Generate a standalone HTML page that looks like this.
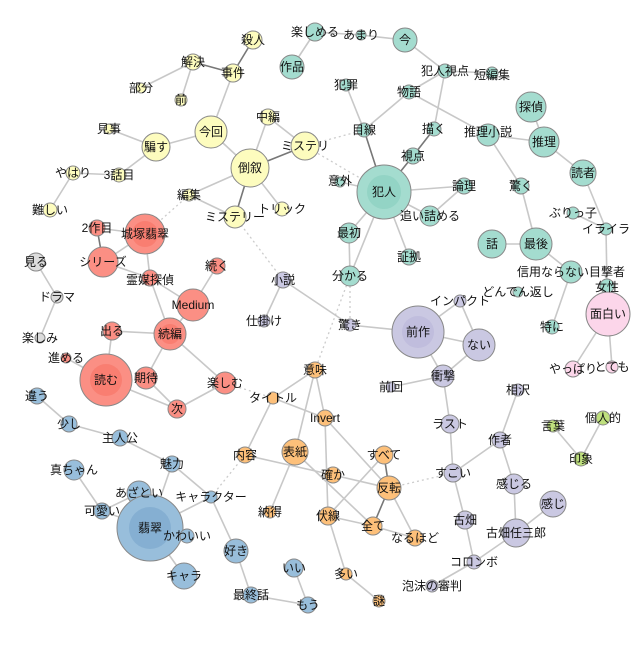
<!DOCTYPE html>
<html><head><meta charset="utf-8"><style>
html,body{margin:0;padding:0;background:#fff;}
svg text{font-family:"Liberation Sans","Noto Sans CJK JP",sans-serif;font-size:12px;fill:#111;text-anchor:middle;dominant-baseline:central;}
.e{stroke:#c8c8c8;stroke-width:1.6;fill:none}
.d{stroke:#777;stroke-width:1.6;fill:none}
.o{stroke:#ccc;stroke-width:1.3;stroke-dasharray:2,3;fill:none}
circle{stroke:#888;stroke-width:1}
.Y{fill:#fdfcbe}.T{fill:#a4dccf}.R{fill:#fb8f84}.B{fill:#98bedb}.L{fill:#cac8e2}.O{fill:#fdc07a}.P{fill:#fcd6ea}.G{fill:#bfe07e}.A{fill:#dcdcdc}
.i{stroke:none;opacity:.45}
</style></head><body>
<svg width="640" height="640" viewBox="0 0 640 640" xmlns="http://www.w3.org/2000/svg">
<g>
<line class="d" x1="253" y1="40" x2="233" y2="73"/>
<line class="d" x1="193" y1="62" x2="233" y2="73"/>
<line class="e" x1="193" y1="62" x2="141" y2="88"/>
<line class="e" x1="193" y1="62" x2="181" y2="100"/>
<line class="e" x1="233" y1="73" x2="211" y2="132"/>
<line class="e" x1="211" y1="132" x2="156" y2="147"/>
<line class="e" x1="211" y1="132" x2="250" y2="168"/>
<line class="e" x1="156" y1="147" x2="109" y2="129"/>
<line class="e" x1="156" y1="147" x2="119" y2="175"/>
<line class="e" x1="119" y1="175" x2="73" y2="173"/>
<line class="e" x1="73" y1="173" x2="50" y2="210"/>
<line class="e" x1="250" y1="168" x2="268" y2="117"/>
<line class="e" x1="268" y1="117" x2="305" y2="146"/>
<line class="d" x1="250" y1="168" x2="305" y2="146"/>
<line class="e" x1="250" y1="168" x2="282" y2="209"/>
<line class="d" x1="250" y1="168" x2="235" y2="217"/>
<line class="e" x1="250" y1="168" x2="189" y2="195"/>
<line class="e" x1="189" y1="195" x2="235" y2="217"/>
<line class="o" x1="189" y1="195" x2="145" y2="234"/>
<line class="o" x1="235" y1="217" x2="283" y2="280"/>
<line class="o" x1="305" y1="146" x2="384" y2="192"/>
<line class="o" x1="305" y1="146" x2="364" y2="130"/>
<line class="e" x1="315" y1="32" x2="292" y2="67"/>
<line class="e" x1="315" y1="32" x2="361" y2="35"/>
<line class="e" x1="361" y1="35" x2="405" y2="40"/>
<line class="e" x1="405" y1="40" x2="445" y2="71"/>
<line class="e" x1="445" y1="71" x2="492" y2="73"/>
<line class="e" x1="445" y1="71" x2="409" y2="92"/>
<line class="e" x1="445" y1="71" x2="434" y2="129"/>
<line class="e" x1="409" y1="92" x2="364" y2="130"/>
<line class="e" x1="409" y1="92" x2="488" y2="135"/>
<line class="e" x1="346" y1="85" x2="364" y2="130"/>
<line class="d" x1="364" y1="130" x2="384" y2="192"/>
<line class="d" x1="434" y1="129" x2="413" y2="156"/>
<line class="d" x1="413" y1="156" x2="384" y2="192"/>
<line class="e" x1="340" y1="182" x2="384" y2="192"/>
<line class="e" x1="384" y1="192" x2="464" y2="186"/>
<line class="e" x1="384" y1="192" x2="430" y2="216"/>
<line class="e" x1="464" y1="186" x2="430" y2="216"/>
<line class="e" x1="384" y1="192" x2="349" y2="233"/>
<line class="e" x1="384" y1="192" x2="350" y2="276"/>
<line class="e" x1="384" y1="192" x2="409" y2="257"/>
<line class="e" x1="349" y1="233" x2="350" y2="276"/>
<line class="o" x1="350" y1="276" x2="350" y2="325"/>
<line class="o" x1="350" y1="276" x2="315" y2="370"/>
<line class="e" x1="488" y1="135" x2="544" y2="142"/>
<line class="e" x1="531" y1="107" x2="544" y2="142"/>
<line class="e" x1="544" y1="142" x2="583" y2="173"/>
<line class="e" x1="488" y1="135" x2="521" y2="186"/>
<line class="e" x1="521" y1="186" x2="536" y2="244"/>
<line class="e" x1="492" y1="244" x2="536" y2="244"/>
<line class="e" x1="536" y1="244" x2="571" y2="272"/>
<line class="e" x1="571" y1="272" x2="552" y2="327"/>
<line class="e" x1="583" y1="173" x2="606" y2="229"/>
<line class="e" x1="573" y1="213" x2="606" y2="229"/>
<line class="e" x1="606" y1="229" x2="607" y2="286"/>
<line class="e" x1="607" y1="286" x2="608" y2="314"/>
<line class="e" x1="608" y1="314" x2="573" y2="369"/>
<line class="e" x1="608" y1="314" x2="612" y2="367"/>
<line class="e" x1="283" y1="280" x2="264" y2="321"/>
<line class="e" x1="283" y1="280" x2="350" y2="325"/>
<line class="e" x1="350" y1="325" x2="418" y2="332"/>
<line class="e" x1="418" y1="332" x2="460" y2="301"/>
<line class="e" x1="460" y1="301" x2="479" y2="345"/>
<line class="e" x1="418" y1="332" x2="479" y2="345"/>
<line class="e" x1="418" y1="332" x2="443" y2="376"/>
<line class="e" x1="479" y1="345" x2="443" y2="376"/>
<line class="e" x1="443" y1="376" x2="391" y2="387"/>
<line class="e" x1="443" y1="376" x2="450" y2="424"/>
<line class="e" x1="450" y1="424" x2="453" y2="473"/>
<line class="e" x1="453" y1="473" x2="500" y2="440"/>
<line class="e" x1="500" y1="440" x2="518" y2="390"/>
<line class="e" x1="500" y1="440" x2="514" y2="484"/>
<line class="e" x1="514" y1="484" x2="516" y2="533"/>
<line class="e" x1="553" y1="504" x2="516" y2="533"/>
<line class="e" x1="516" y1="533" x2="474" y2="562"/>
<line class="e" x1="453" y1="473" x2="465" y2="520"/>
<line class="e" x1="465" y1="520" x2="474" y2="562"/>
<line class="e" x1="474" y1="562" x2="432" y2="586"/>
<line class="o" x1="453" y1="473" x2="389" y2="488"/>
<line class="e" x1="553" y1="426" x2="581" y2="459"/>
<line class="e" x1="603" y1="418" x2="581" y2="459"/>
<line class="e" x1="36" y1="262" x2="57" y2="297"/>
<line class="e" x1="57" y1="297" x2="40" y2="338"/>
<line class="e" x1="97" y1="228" x2="145" y2="234"/>
<line class="d" x1="97" y1="228" x2="103" y2="262"/>
<line class="e" x1="103" y1="262" x2="145" y2="234"/>
<line class="e" x1="145" y1="234" x2="150" y2="278"/>
<line class="e" x1="103" y1="262" x2="150" y2="278"/>
<line class="e" x1="150" y1="278" x2="193" y2="305"/>
<line class="e" x1="150" y1="278" x2="170" y2="334"/>
<line class="e" x1="217" y1="266" x2="193" y2="305"/>
<line class="e" x1="193" y1="305" x2="170" y2="334"/>
<line class="e" x1="112" y1="331" x2="170" y2="334"/>
<line class="e" x1="112" y1="331" x2="106" y2="380"/>
<line class="e" x1="66" y1="358" x2="106" y2="380"/>
<line class="e" x1="106" y1="380" x2="177" y2="409"/>
<line class="e" x1="170" y1="334" x2="146" y2="378"/>
<line class="e" x1="146" y1="378" x2="177" y2="409"/>
<line class="e" x1="170" y1="334" x2="225" y2="383"/>
<line class="e" x1="177" y1="409" x2="225" y2="383"/>
<line class="o" x1="225" y1="383" x2="273" y2="398"/>
<line class="e" x1="37" y1="396" x2="69" y2="424"/>
<line class="e" x1="69" y1="424" x2="120" y2="438"/>
<line class="e" x1="120" y1="438" x2="172" y2="464"/>
<line class="e" x1="74" y1="470" x2="102" y2="511"/>
<line class="e" x1="102" y1="511" x2="139" y2="493"/>
<line class="e" x1="102" y1="511" x2="150" y2="528"/>
<line class="e" x1="139" y1="493" x2="150" y2="528"/>
<line class="e" x1="172" y1="464" x2="150" y2="528"/>
<line class="e" x1="172" y1="464" x2="211" y2="497"/>
<line class="e" x1="211" y1="497" x2="150" y2="528"/>
<line class="e" x1="211" y1="497" x2="236" y2="551"/>
<line class="e" x1="187" y1="536" x2="150" y2="528"/>
<line class="e" x1="184" y1="576" x2="150" y2="528"/>
<line class="e" x1="236" y1="551" x2="251" y2="595"/>
<line class="e" x1="251" y1="595" x2="308" y2="605"/>
<line class="e" x1="294" y1="568" x2="308" y2="605"/>
<line class="o" x1="211" y1="497" x2="245" y2="455"/>
<line class="e" x1="315" y1="370" x2="273" y2="398"/>
<line class="e" x1="315" y1="370" x2="295" y2="452"/>
<line class="e" x1="315" y1="370" x2="325" y2="418"/>
<line class="e" x1="273" y1="398" x2="325" y2="418"/>
<line class="e" x1="273" y1="398" x2="245" y2="455"/>
<line class="e" x1="245" y1="455" x2="333" y2="475"/>
<line class="e" x1="325" y1="418" x2="389" y2="488"/>
<line class="e" x1="325" y1="418" x2="328" y2="516"/>
<line class="e" x1="295" y1="452" x2="270" y2="512"/>
<line class="e" x1="295" y1="452" x2="373" y2="526"/>
<line class="e" x1="333" y1="475" x2="389" y2="488"/>
<line class="d" x1="384" y1="455" x2="389" y2="488"/>
<line class="e" x1="384" y1="455" x2="328" y2="516"/>
<line class="d" x1="389" y1="488" x2="373" y2="526"/>
<line class="e" x1="389" y1="488" x2="415" y2="538"/>
<line class="e" x1="373" y1="526" x2="415" y2="538"/>
<line class="e" x1="328" y1="516" x2="373" y2="526"/>
<line class="e" x1="328" y1="516" x2="346" y2="574"/>
<line class="e" x1="346" y1="574" x2="379" y2="601"/>
</g>
<g>
<circle class="Y" cx="253" cy="40" r="9"/><circle class="Y" cx="193" cy="62" r="8"/><circle class="Y" cx="233" cy="73" r="9"/>
<circle class="Y" cx="141" cy="88" r="5"/><circle class="Y" cx="181" cy="100" r="6"/><circle class="Y" cx="268" cy="117" r="8"/>
<circle class="Y" cx="211" cy="132" r="16"/><circle class="Y" cx="109" cy="129" r="5"/><circle class="Y" cx="156" cy="147" r="14"/>
<circle class="Y" cx="305" cy="146" r="14"/><circle class="Y" cx="250" cy="168" r="19"/><circle class="Y" cx="73" cy="173" r="7"/>
<circle class="Y" cx="119" cy="175" r="7"/><circle class="Y" cx="189" cy="195" r="6"/><circle class="Y" cx="235" cy="217" r="11"/>
<circle class="Y" cx="282" cy="209" r="7"/><circle class="Y" cx="50" cy="210" r="7"/>
<circle class="T" cx="315" cy="32" r="9"/><circle class="T" cx="292" cy="67" r="12"/><circle class="T" cx="361" cy="35" r="5"/>
<circle class="T" cx="405" cy="40" r="12"/><circle class="T" cx="445" cy="71" r="7"/><circle class="T" cx="492" cy="73" r="6"/>
<circle class="T" cx="346" cy="85" r="6"/><circle class="T" cx="409" cy="92" r="7"/><circle class="T" cx="531" cy="107" r="15"/>
<circle class="T" cx="364" cy="130" r="7"/><circle class="T" cx="434" cy="129" r="7"/><circle class="T" cx="488" cy="135" r="11"/>
<circle class="T" cx="544" cy="142" r="15"/><circle class="T" cx="413" cy="156" r="8"/><circle class="T" cx="583" cy="173" r="13"/>
<circle class="T" cx="340" cy="182" r="5"/><circle class="T" cx="384" cy="192" r="27"/><circle class="T i" cx="384" cy="192" r="17" style="fill:#7fcab9"/>
<circle class="T" cx="464" cy="186" r="8"/><circle class="T" cx="430" cy="216" r="10"/><circle class="T" cx="521" cy="186" r="8"/>
<circle class="T" cx="573" cy="213" r="6"/><circle class="T" cx="606" cy="229" r="6"/><circle class="T" cx="492" cy="244" r="14"/>
<circle class="T" cx="536" cy="244" r="16"/><circle class="T" cx="349" cy="233" r="10"/><circle class="T" cx="409" cy="257" r="8"/>
<circle class="T" cx="571" cy="272" r="11"/><circle class="T" cx="350" cy="276" r="10"/><circle class="T" cx="518" cy="292" r="5"/>
<circle class="T" cx="552" cy="327" r="7"/><circle class="T" cx="607" cy="286" r="7"/>
<circle class="L" cx="460" cy="301" r="6"/><circle class="L" cx="283" cy="280" r="8"/><circle class="L" cx="264" cy="321" r="6"/>
<circle class="L" cx="350" cy="325" r="6"/><circle class="L" cx="418" cy="332" r="26"/><circle class="L i" cx="418" cy="332" r="16" style="fill:#b3b0d6"/>
<circle class="L" cx="479" cy="345" r="16"/><circle class="L" cx="443" cy="376" r="11"/><circle class="L" cx="391" cy="387" r="5"/>
<circle class="L" cx="450" cy="424" r="9"/><circle class="L" cx="518" cy="390" r="6"/><circle class="L" cx="500" cy="440" r="8"/>
<circle class="L" cx="453" cy="473" r="9"/><circle class="L" cx="514" cy="484" r="10"/><circle class="L" cx="553" cy="504" r="13"/>
<circle class="L" cx="465" cy="520" r="9"/><circle class="L" cx="516" cy="533" r="14"/><circle class="L" cx="474" cy="562" r="7"/>
<circle class="L" cx="432" cy="586" r="6"/>
<circle class="A" cx="36" cy="262" r="9"/><circle class="A" cx="57" cy="297" r="6"/><circle class="A" cx="40" cy="338" r="5"/>
<circle class="R" cx="97" cy="228" r="8"/><circle class="R" cx="145" cy="234" r="20"/><circle class="R i" cx="145" cy="234" r="13" style="fill:#f76a5c"/>
<circle class="R" cx="103" cy="262" r="15"/><circle class="R" cx="217" cy="266" r="8"/><circle class="R" cx="150" cy="278" r="8"/>
<circle class="R" cx="193" cy="305" r="16"/><circle class="R" cx="112" cy="331" r="9"/><circle class="R" cx="170" cy="334" r="16"/>
<circle class="R i" cx="170" cy="334" r="10" style="fill:#f76a5c"/>
<circle class="R" cx="66" cy="358" r="5"/><circle class="R" cx="106" cy="380" r="26"/><circle class="R i" cx="106" cy="380" r="16" style="fill:#f76a5c"/>
<circle class="R" cx="146" cy="378" r="11"/><circle class="R" cx="225" cy="383" r="11"/><circle class="R" cx="177" cy="409" r="9"/>
<circle class="P" cx="608" cy="314" r="22"/><circle class="P" cx="573" cy="369" r="8"/><circle class="P" cx="612" cy="367" r="6"/>
<circle class="G" cx="553" cy="426" r="6"/><circle class="G" cx="603" cy="418" r="7"/><circle class="G" cx="581" cy="459" r="7"/>
<circle class="B" cx="37" cy="396" r="8"/><circle class="B" cx="69" cy="424" r="8"/><circle class="B" cx="120" cy="438" r="8"/>
<circle class="B" cx="74" cy="470" r="10"/><circle class="B" cx="172" cy="464" r="8"/><circle class="B" cx="139" cy="493" r="12"/>
<circle class="B" cx="102" cy="511" r="8"/><circle class="B" cx="211" cy="497" r="6"/><circle class="B" cx="150" cy="528" r="33"/>
<circle class="B i" cx="150" cy="528" r="21" style="fill:#6f9ec8"/>
<circle class="B" cx="187" cy="536" r="7"/><circle class="B" cx="236" cy="551" r="12"/><circle class="B" cx="184" cy="576" r="13"/>
<circle class="B" cx="251" cy="595" r="8"/><circle class="B" cx="294" cy="568" r="9"/><circle class="B" cx="308" cy="605" r="8"/>
<circle class="O" cx="315" cy="370" r="8"/><circle class="O" cx="273" cy="398" r="6"/><circle class="O" cx="325" cy="418" r="8"/>
<circle class="O" cx="245" cy="455" r="8"/><circle class="O" cx="295" cy="452" r="13"/><circle class="O" cx="333" cy="475" r="8"/>
<circle class="O" cx="384" cy="455" r="9"/><circle class="O" cx="389" cy="488" r="12"/><circle class="O" cx="270" cy="512" r="6"/>
<circle class="O" cx="328" cy="516" r="9"/><circle class="O" cx="373" cy="526" r="9"/><circle class="O" cx="415" cy="538" r="8"/>
<circle class="O" cx="346" cy="574" r="6"/><circle class="O" cx="379" cy="601" r="6"/>
</g>
<g>
<text x="253" y="40">殺人</text><text x="193" y="62">解決</text><text x="233" y="73">事件</text><text x="141" y="88">部分</text>
<text x="181" y="100">前</text><text x="268" y="117">中編</text><text x="211" y="132">今回</text><text x="109" y="129">見事</text>
<text x="156" y="147">騙す</text><text x="305" y="146">ミステリ</text><text x="250" y="168">倒叙</text><text x="73" y="173">やはり</text>
<text x="119" y="175">3話目</text><text x="189" y="195">編集</text><text x="235" y="217">ミステリー</text><text x="282" y="209">トリック</text>
<text x="50" y="210">難しい</text>
<text x="315" y="32">楽しめる</text><text x="292" y="67">作品</text><text x="361" y="35">あまり</text><text x="405" y="40">今</text>
<text x="445" y="71">犯人視点</text><text x="492" y="75">短編集</text><text x="346" y="85">犯罪</text><text x="409" y="92">物語</text>
<text x="531" y="107">探偵</text><text x="364" y="130">目線</text><text x="434" y="129">描く</text><text x="488" y="132">推理小説</text>
<text x="544" y="142">推理</text><text x="413" y="156">視点</text><text x="583" y="173">読者</text><text x="340" y="181">意外</text>
<text x="384" y="192">犯人</text><text x="464" y="186">論理</text><text x="430" y="216">追い詰める</text><text x="521" y="186">驚く</text>
<text x="573" y="213">ぶりっ子</text><text x="606" y="229">イライラ</text><text x="492" y="244">話</text><text x="536" y="244">最後</text>
<text x="349" y="233">最初</text><text x="409" y="257">証拠</text><text x="571" y="272">信用ならない目撃者</text>
<text x="350" y="276">分かる</text><text x="518" y="292">どんでん返し</text><text x="552" y="327">特に</text><text x="607" y="287">女性</text>
<text x="460" y="301">インパクト</text><text x="283" y="280">小説</text><text x="264" y="321">仕掛け</text><text x="350" y="325">驚き</text>
<text x="418" y="332">前作</text><text x="479" y="345">ない</text><text x="443" y="376">衝撃</text><text x="391" y="387">前回</text>
<text x="450" y="424">ラスト</text><text x="518" y="390">相沢</text><text x="500" y="440">作者</text><text x="453" y="473">すごい</text>
<text x="514" y="484">感じる</text><text x="553" y="504">感じ</text><text x="465" y="520">古畑</text><text x="516" y="533">古畑任三郎</text>
<text x="474" y="562">コロンボ</text><text x="432" y="586">泡沫の審判</text>
<text x="36" y="262">見る</text><text x="57" y="297">ドラマ</text><text x="40" y="338">楽しみ</text>
<text x="97" y="228">2作目</text><text x="145" y="234">城塚翡翠</text><text x="103" y="262">シリーズ</text><text x="217" y="266">続く</text>
<text x="150" y="280">霊媒探偵</text><text x="193" y="305">Medium</text><text x="112" y="331">出る</text><text x="170" y="334">続編</text>
<text x="66" y="358">進める</text><text x="106" y="380">読む</text><text x="146" y="378">期待</text><text x="225" y="383">楽しむ</text>
<text x="177" y="409">次</text>
<text x="608" y="314">面白い</text><text x="573" y="369">やっぱり</text><text x="612" y="367">とても</text>
<text x="553" y="426">言葉</text><text x="603" y="418">個人的</text><text x="581" y="459">印象</text>
<text x="37" y="396">違う</text><text x="69" y="424">少し</text><text x="120" y="438">主人公</text><text x="74" y="470">真ちゃん</text>
<text x="172" y="464">魅力</text><text x="139" y="493">あざとい</text><text x="102" y="511">可愛い</text><text x="211" y="497">キャラクター</text>
<text x="150" y="528">翡翠</text><text x="187" y="536">かわいい</text><text x="236" y="551">好き</text><text x="184" y="576">キャラ</text>
<text x="251" y="595">最終話</text><text x="294" y="568">いい</text><text x="308" y="605">もう</text>
<text x="315" y="370">意味</text><text x="273" y="398">タイトル</text><text x="325" y="418">Invert</text><text x="245" y="455">内容</text>
<text x="295" y="452">表紙</text><text x="333" y="475">確か</text><text x="384" y="455">すべて</text><text x="389" y="488">反転</text>
<text x="270" y="512">納得</text><text x="328" y="516">伏線</text><text x="373" y="526">全て</text><text x="415" y="538">なるほど</text>
<text x="346" y="574">多い</text><text x="379" y="601">謎</text>
</g>
</svg>
</body></html>
